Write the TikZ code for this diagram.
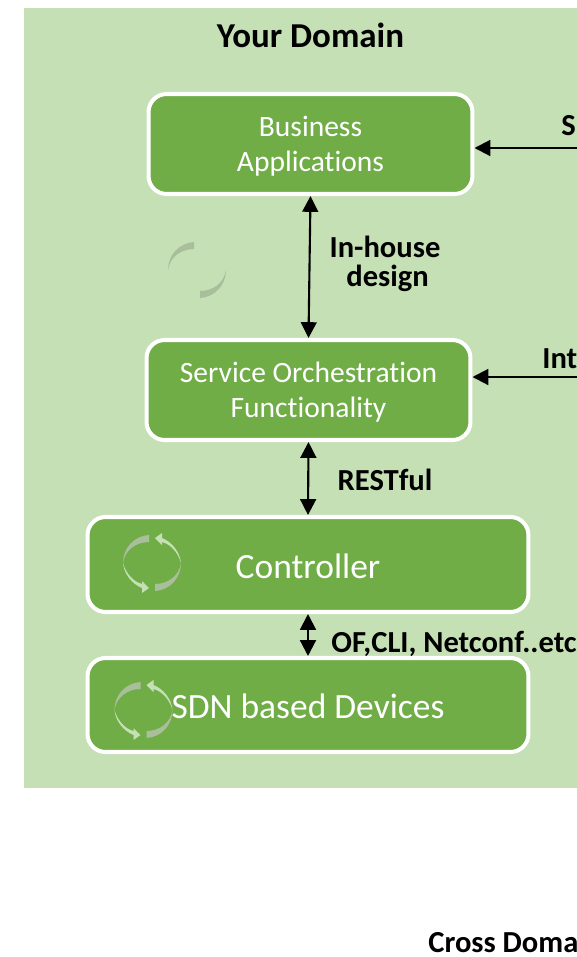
\documentclass[tikz,border=0pt]{standalone}
\usepackage{fontspec}
\setmainfont[Ligatures=NoCommon]{Carlito}
\usetikzlibrary{arrows.meta}
\definecolor{domaingreen}{HTML}{C5E0B4}
\definecolor{boxgreen}{HTML}{70AD47}
\definecolor{syncgray}{HTML}{A9BF9C}
\tikzset{
  domainbox/.style={fill=domaingreen,inner sep=0pt,minimum width=11.06cm,minimum height=15.6cm},
  appbox/.style={draw=white,fill=boxgreen,line width=2.3pt,rounded corners=0.36cm,text=white,align=center,font=\fontsize{16.8}{19.8}\selectfont,inner sep=0pt,text depth=-3pt},
  bigbox/.style={draw=white,fill=boxgreen,line width=2.3pt,rounded corners=0.36cm,text=white,align=center,font=\fontsize{20.2}{24}\selectfont,inner sep=0pt,minimum width=8.82cm,execute at begin node={\rule{0pt}{16pt}}},
  linklabel/.style={font=\bfseries\fontsize{17.4}{16.5}\selectfont,align=center,inner sep=0pt,text=black},
  linkarrow/.style={line width=1.2pt,arrows={-{Triangle[length=9pt,width=9pt]}}},
  bothways/.style={line width=1.2pt,arrows={{Triangle[length=9pt,width=9pt]}-{Triangle[length=9pt,width=9pt]}}},
  syncicon/.pic={
    \foreach \turn in {0,180} {
      \begin{scope}[rotate=\turn]
        \fill[syncgray] (-3,-28) .. controls (-18,-27) and (-29,-15) .. (-29,0)
          .. controls (-27,-13) and (-16,-21) .. (-3,-21) -- cycle;
        \fill[domaingreen] (-29,0) .. controls (-28,11) and (-20,21) .. (-10,25)
          -- (-10,30) -- (-3,25) -- (-10,18) -- (-10,21)
          .. controls (-18,19) and (-26,11) .. (-29,0) -- cycle;
      \end{scope}
    }
  }
}
\begin{document}
\begin{tikzpicture}[x=0.02cm,y=-0.02cm]
\useasboundingbox (0,0) rectangle (577,957);
\clip (0,0) rectangle (577,957);
\node (domain) at (300.5,398) [domainbox] {};
\node (title) at (310.5,35) [linklabel,font=\bfseries\fontsize{19.9}{24}\selectfont] {Your Domain};
\node (bizapp) at (310.5,144) [appbox,minimum width=6.48cm,minimum height=2cm] {Business\\Applications};
\node (service) at (308.5,390) [appbox,minimum width=6.48cm,minimum height=2cm] {Service Orchestration\\Functionality};
\node (controller) at (308,564.5) [bigbox,minimum height=1.9cm] {Controller};
\node (devices) at (308,705) [bigbox,minimum height=1.88cm] {SDN based Devices};
\coordinate (sfree) at (577,148);
\coordinate (intfree) at (577,377);
\node (slabel) at (561,135) [linklabel,anchor=base west] {S};
\node (intlabel) at (542,368) [linklabel,anchor=base west] {Int};
\node (inhouse) at (385,264) [linklabel] {In-house\\\hspace*{3pt}design};
\node (restful) at (385,480) [linklabel] {RESTful};
\node (oflabel) at (331,652) [linklabel,anchor=base west] {OF,CLI, Netconf..etc};
\node (crossdomain) at (428,952) [linklabel,anchor=base west] {Cross Doma};
\draw[linkarrow] (sfree) -- (sfree -| bizapp.east);
\draw[linkarrow] (intfree) -- (intfree -| service.east);
\draw[bothways] (bizapp.south) -- (service.north);
\draw[bothways] (service.south) -- (controller.north);
\draw[bothways] (controller.south) -- (devices.north);
\pic at (197,270) {syncicon};
\pic at (152,563) {syncicon};
\pic at (143.5,710) {syncicon};
\end{tikzpicture}
\end{document}
